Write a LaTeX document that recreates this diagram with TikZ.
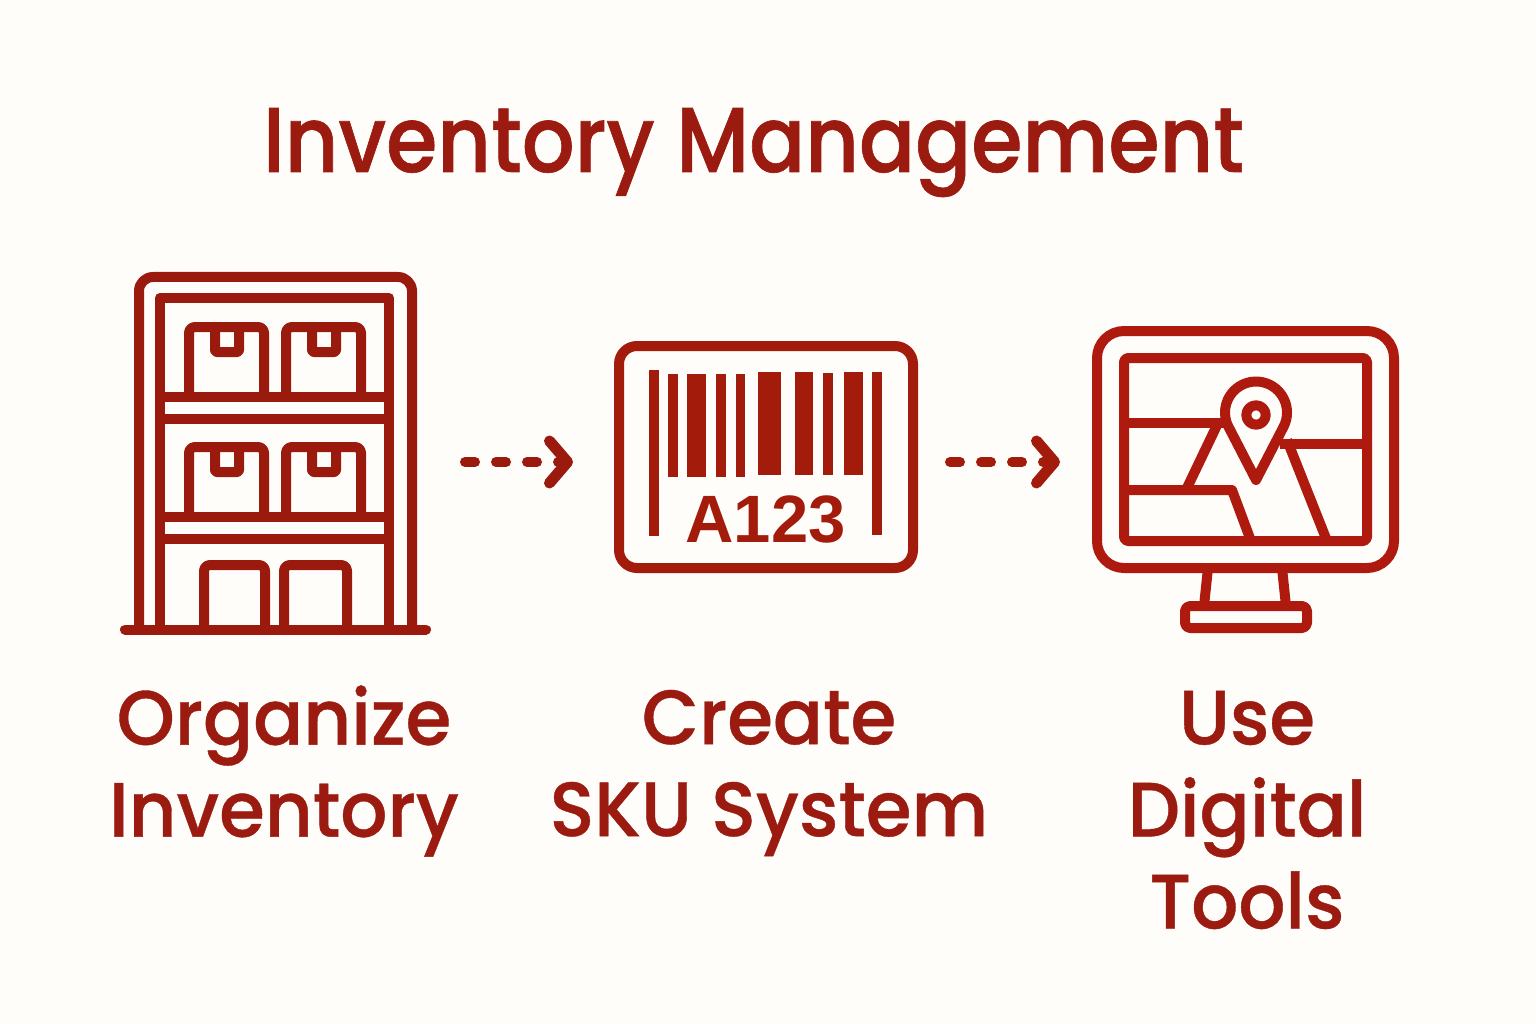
\documentclass[tikz,border=0pt]{standalone}
\usepackage{fontspec}
\setmainfont{Poppins}[UprightFont=* Medium, FakeStretch=0.96, FakeBold=0.5]
\newfontfamily\titlefont{Poppins}[UprightFont=* Medium, FakeStretch=0.9, FakeBold=0.7]
\newfontfamily\codefont{Liberation Sans}[UprightFont=* Bold]
\usetikzlibrary{arrows.meta,positioning}
\definecolor{paperbg}{HTML}{FEFDFA}
\definecolor{shelfred}{HTML}{9B1A0E}
\definecolor{barred}{HTML}{A31B0A}
\definecolor{screenred}{HTML}{AE1B0E}
\definecolor{textred}{HTML}{9B1B10}
\tikzset{
  iconline/.style={line width=10pt, line join=round, line cap=butt},
  iconbox/.style={inner sep=0pt, outer sep=0pt},
  flowarrow/.style={shelfred, line width=10pt, line cap=round, dash pattern=on 10pt off 21pt,
    -{Straight Barb[length=18pt, width=42pt, round, line width=11pt]}},
  titlelabel/.style={text=textred, inner sep=0pt, font=\titlefont\fontsize{92}{92}\selectfont},
  steplabel/.style={text=textred, inner sep=0pt, align=center, font=\fontsize{77}{92}\selectfont},
}
\begin{document}
\begin{tikzpicture}[x=1pt, y=-1pt]

\fill[paperbg] (0,0) rectangle (1536,1024);
\useasboundingbox (0,0) rectangle (1536,1024);

\node[iconbox, minimum width=310pt, minimum height=384pt] (shelf) at (275,462) {};
\node[iconbox, minimum width=304pt, minimum height=224pt] (barcode) at (766,462) {};
\node[iconbox, minimum width=306pt, minimum height=262pt] (monitor) at (1245,462) {};

\node[titlelabel, anchor=base] (title) at (753.5,172) {Inventory Management};
\node[steplabel] (organize) at (284,771) {Organize\\Inventory};
\node[steplabel] (sku) at (769,773) {Create\\SKU System};
\node[steplabel] (tools) at (1247,810) {Use\\Digital\\Tools};

\begin{scope}[shelfred]
\draw[iconline, rounded corners=14pt] (139,629) -- (139,277) -- (412,277) -- (412,629);
\draw[iconline] (160,629) -- (160,298) -- (389,298) -- (389,629);
\draw[iconline] (160,397) -- (389,397);
\draw[iconline] (160,419) -- (389,419);
\draw[iconline] (160,517) -- (389,517);
\draw[iconline] (160,539) -- (389,539);
\foreach \bx/\by in {189/327, 286/327, 189/447, 286/447} {
  \draw[iconline, rounded corners=6pt] (\bx,\by+70) -- (\bx,\by) -- (\bx+75,\by) -- (\bx+75,\by+70);
  \draw[iconline, rounded corners=2pt] (\bx+26,\by) -- (\bx+26,\by+25) -- (\bx+50,\by+25) -- (\bx+50,\by);
}
\draw[iconline, rounded corners=6pt] (204,629) -- (204,565) -- (265,565) -- (265,629);
\draw[iconline, rounded corners=6pt] (284,629) -- (284,565) -- (347,565) -- (347,629);
\draw[iconline, line cap=round] (125,629.5) -- (426,629.5);
\end{scope}

\begin{scope}[barred]
\draw[iconline, rounded corners=18pt] (619,346) rectangle (913,568);
\foreach \xa/\xb/\ya/\yb in {649/659/370/536, 668/678/374/477, 687/706/374/477, 716/726/374/477, 736/745/374/477,
    758/781/372/475, 795/813/372/475, 823/833/373/475, 844/863/372/475, 872/882/372/535} {
  \fill (\xa,\ya) rectangle (\xb,\yb);
}
\node[text=barred, inner sep=0pt, font=\codefont\fontsize{67}{67}\selectfont] (code) at (765.5,519.5) {A123};
\end{scope}

\begin{scope}[screenred]
\draw[iconline, rounded corners=27pt] (1097,331) rectangle (1394,568);
\draw[iconline, rounded corners=4pt] (1124,358) rectangle (1367,541);
\draw[iconline] (1208,568) -- (1204,606);
\draw[iconline] (1282,568) -- (1286,606);
\draw[iconline, rounded corners=5pt] (1185,606) rectangle (1307,628);
\draw[iconline] (1124,423) -- (1224,423);
\draw[iconline] (1280,444) -- (1367,444);
\draw[iconline] (1219,421) -- (1186,490);
\draw[iconline] (1124,490) -- (1232,490) -- (1251,541);
\draw[iconline] (1287,440) -- (1327,541);
\draw[iconline] (1256,480) -- (1228.4,426.6) arc[start angle=153, end angle=387, radius=31] -- cycle;
\draw[iconline] (1256,415) circle[radius=9.7];
\end{scope}

\draw[flowarrow, shorten <=35pt, shorten >=41pt] (shelf.east) -- (barcode.west);
\draw[flowarrow, barred, shorten <=32pt, shorten >=32pt] (barcode.east) -- (monitor.west);

\end{tikzpicture}
\end{document}
